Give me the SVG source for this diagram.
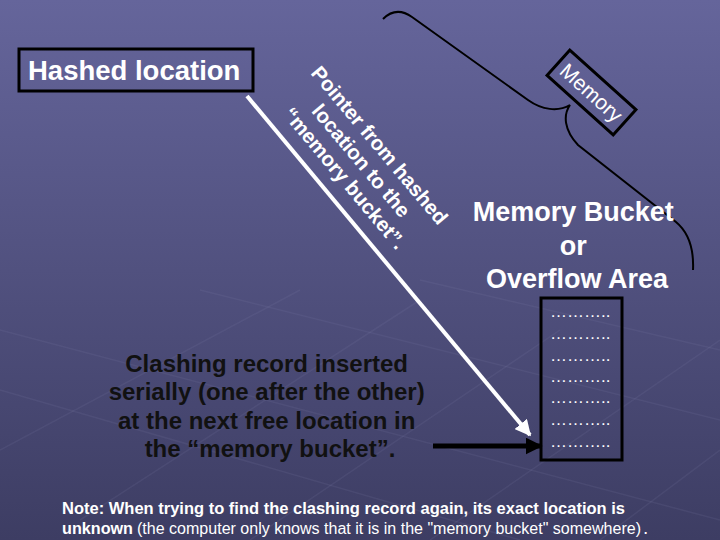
<svg xmlns="http://www.w3.org/2000/svg" width="720" height="540" viewBox="0 0 720 540">
  <defs>
    <linearGradient id="bg" x1="0" y1="0" x2="0" y2="1">
      <stop offset="0" stop-color="#65659b"/>
      <stop offset="0.5" stop-color="#51517f"/>
      <stop offset="1" stop-color="#3d3d63"/>
    </linearGradient>
    <marker id="whiteHead" viewBox="0 0 10 10" refX="9" refY="5" markerWidth="4" markerHeight="4" orient="auto" markerUnits="strokeWidth">
      <path d="M0,0 L10,5 L0,10 Z" fill="#ffffff"/>
    </marker>
    <marker id="blackHead" viewBox="0 0 10 10" refX="9" refY="5" markerWidth="3.4" markerHeight="3.4" orient="auto" markerUnits="strokeWidth">
      <path d="M0,0 L10,5 L0,10 Z" fill="#000000"/>
    </marker>
  </defs>
  <style>
    .sans { font-family: "Liberation Sans", Arial, sans-serif; }
    .wb { fill: #ffffff; font-weight: bold; }
    .box { fill: none; stroke: #000000; stroke-width: 3; }
    .dots { fill: #ffffff; font-size: 17px; }
    .grid { stroke: #8a8ab8; stroke-opacity: 0.12; stroke-width: 1.5; fill: none; }
  </style>

  <rect x="0" y="0" width="720" height="540" fill="url(#bg)"/>

  <g id="background-pattern">
    <path class="grid" d="M0,450 L300,290 M80,520 L420,300 M250,540 L560,330 M430,540 L720,340 M600,540 L720,450"/>
    <path class="grid" d="M0,330 L720,520 M0,390 L520,540 M200,290 L720,420 M420,280 L720,350"/>
  </g>

  <g id="hashed-location" class="sans">
    <rect class="box" x="19" y="49" width="234" height="42"/>
    <text class="wb" x="28" y="80" font-size="27.5">Hashed location</text>
  </g>

  <g id="pointer-label" class="sans">
    <g transform="translate(376,152) rotate(50)">
      <text class="wb" font-size="20.5" text-anchor="middle">
        <tspan x="0" y="0">Pointer from hashed</tspan>
        <tspan x="0" y="24">location to the</tspan>
        <tspan x="0" y="48">“memory bucket”.</tspan>
      </text>
    </g>
  </g>

  <g id="memory-brace">
    <path d="M383,19 C392,10 402,10 412,17 L528,100 C542,110 558,112 570,105 C563,115 564,130 578,145 L676,222 C688,232 694,248 693,270" fill="none" stroke="#000000" stroke-width="2"/>
  </g>

  <g id="memory-label" class="sans">
    <g transform="translate(591.5,92.5) rotate(42)">
      <rect class="box" x="-44.5" y="-17" width="89" height="34"/>
      <text x="0" y="7.5" font-size="21" fill="#ffffff" text-anchor="middle">Memory</text>
    </g>
  </g>

  <g id="bucket-title" class="sans">
    <text class="wb" font-size="27" text-anchor="middle">
      <tspan x="577" y="221">Memory Bucket</tspan>
      <tspan x="577" y="255">or</tspan>
      <tspan x="577" y="288">Overflow Area</tspan>
    </text>
  </g>

  <g id="bucket" class="sans">
    <rect class="box" x="541" y="298" width="81" height="162"/>
    <text class="dots" x="550" y="317">………..</text>
    <text class="dots" x="550" y="339">………..</text>
    <text class="dots" x="550" y="361">………..</text>
    <text class="dots" x="550" y="382">………..</text>
    <text class="dots" x="550" y="403">………..</text>
    <text class="dots" x="550" y="425">………..</text>
    <text class="dots" x="550" y="447">………..</text>
  </g>

  <g id="clash-note" class="sans">
    <text font-size="24" font-weight="bold" fill="#111111" text-anchor="middle">
      <tspan x="270" y="372">Clashing record inserted</tspan>
      <tspan x="270" y="400">serially (one after the other)</tspan>
      <tspan x="270" y="429">at the next free location in</tspan>
      <tspan x="270" y="457">the “memory bucket”.</tspan>
    </text>
  </g>

  <g id="connectors">
    <line x1="247" y1="96" x2="530" y2="435" stroke="#ffffff" stroke-width="4" marker-end="url(#whiteHead)"/>
    <line x1="433" y1="446" x2="541" y2="446" stroke="#000000" stroke-width="5" marker-end="url(#blackHead)"/>
  </g>

  <g id="footnote" class="sans" fill="#ffffff">
    <text x="62" y="514" font-size="17" font-weight="bold" textLength="563" lengthAdjust="spacingAndGlyphs">Note: When trying to find the clashing record again, its exact location is</text>
    <text x="62" y="534" font-size="17" font-weight="bold" textLength="71" lengthAdjust="spacingAndGlyphs">unknown</text>
    <text x="137" y="534" font-size="16" textLength="504" lengthAdjust="spacingAndGlyphs">(the computer only knows that it is in the "memory bucket" somewhere)</text>
    <text x="643" y="534" font-size="19">.</text>
  </g>
</svg>
